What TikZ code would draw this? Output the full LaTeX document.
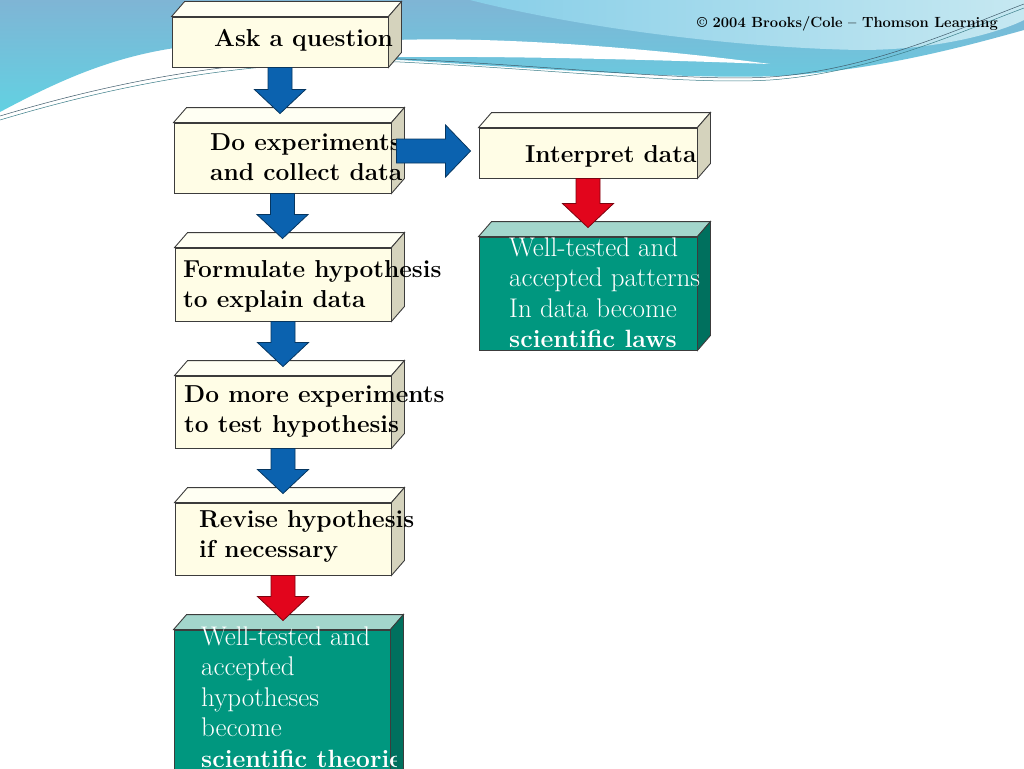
\documentclass[tikz,border=0pt]{standalone}
\usepackage{tikz}
\usetikzlibrary{calc}

\definecolor{cream}{HTML}{FFFDE6}
\definecolor{creamtop}{HTML}{FFFFF3}
\definecolor{creamside}{HTML}{D5D3BD}
\definecolor{tealfront}{HTML}{00977F}
\definecolor{tealtop}{HTML}{A3D6CC}
\definecolor{tealside}{HTML}{00705E}
\definecolor{edgegray}{HTML}{3C3C3C}
\definecolor{arrowblue}{HTML}{0B62AF}
\definecolor{arrowred}{HTML}{E2051C}
\definecolor{skytop}{HTML}{7FB5D5}
\definecolor{skycyan}{HTML}{62D1E2}
\definecolor{skylight}{HTML}{C6E8F1}
\definecolor{skymid}{HTML}{5DBDE2}

% top and side face of a slab, #1 = front node
\newcommand{\slabfaces}[3]{%
  \draw[edgegray, line width=0.9pt, fill=#2] (#1.north west) -- ++(13,-15) -- ($(#1.north east)+(13,-15)$) -- (#1.north east) -- cycle;
  \draw[edgegray, line width=0.9pt, fill=#3] (#1.north east) -- ++(13,-15) -- ($(#1.south east)+(13,-15)$) -- (#1.south east) -- cycle;}

% block arrows, #2 = start, #3 = tip
\newcommand{\blockdown}[3]{%
  \path (#2 |- #3) coordinate (aux tip);
  \draw[#1] ($(#2)+(-12,0)$) -- ($(#2)+(12,0)$) -- ($(aux tip)+(12,-24)$) -- ($(aux tip)+(25.5,-24)$)
    -- (aux tip) -- ($(aux tip)+(-25.5,-24)$) -- ($(aux tip)+(-12,-24)$) -- cycle;}
\newcommand{\blockright}[3]{%
  \path (#2 |- #3) coordinate (aux start);
  \draw[#1] ($(aux start)+(0,-12)$) -- ($(#3)+(-25,-12)$) -- ($(#3)+(-25,-26)$) -- (#3)
    -- ($(#3)+(-25,26)$) -- ($(#3)+(-25,12)$) -- ($(aux start)+(0,12)$) -- cycle;}

\newcommand{\textlines}[1]{\begin{tabular}[t]{@{}l@{}}#1\end{tabular}}
\newcommand{\boldline}[1]{{\bfseries\fontsize{25}{30.5}\selectfont #1}}

\begin{document}
\begin{tikzpicture}[
    x=1pt, y=-1pt,
    card/.style={rectangle, draw=edgegray, line width=0.9pt, fill=cream, inner sep=0pt},
    law/.style={rectangle, draw=edgegray, line width=0.9pt, fill=tealfront, inner sep=0pt},
    txt/.style={anchor=base west, inner sep=0pt, font=\bfseries\fontsize{24.5}{30.5}\selectfont},
    wtxt/.style={anchor=base west, inner sep=0pt, text=white, font=\fontsize{27}{30.5}\selectfont},
    blue_arrow/.style={draw=arrowblue!55!black, fill=arrowblue, line width=0.8pt},
    red_arrow/.style={draw=arrowred!55!black, fill=arrowred, line width=0.8pt}
  ]

    \useasboundingbox (0,0) rectangle (1024,768);
    \fill[white] (0,0) rectangle (1024,768);

    % Header waves
    \shade[top color=skytop, bottom color=skycyan] (0,0) -- (1024,0) -- (1024,30)
      .. controls (970,45) and (880,70) .. (780,76) .. controls (680,80) and (500,66) .. (400,60)
      -- (200,45) .. controls (120,52) and (60,80) .. (0,112) -- cycle;
    \shade[left color=skymid!60!skylight, right color=skylight] (470,0) .. controls (580,28) and (740,48) .. (860,50)
      .. controls (940,50) and (1000,32) .. (1024,20) -- (1024,0) -- cycle;
    \fill[white] (395,40) .. controls (520,36) and (680,52) .. (770,64) .. controls (660,60) and (520,56) .. (395,57) -- cycle;
    \draw[skytop!50!black, line width=0.5pt] (0,116) .. controls (120,80) and (250,55) .. (400,59)
      .. controls (560,66) and (690,82) .. (770,77) .. controls (870,70) and (960,28) .. (1024,4);
    \draw[skycyan!60!black, line width=0.5pt] (0,120) .. controls (120,84) and (250,59) .. (400,62)
      .. controls (560,70) and (690,85) .. (770,80) .. controls (870,73) and (960,32) .. (1024,8);

    \node[anchor=base east, inner sep=0pt, font=\bfseries\fontsize{14.7}{17}\selectfont] (credit) at (998,28)
      {\textcopyright{} 2004 Brooks/Cole -- Thomson Learning};

    % Left column - method steps
    \node[card, minimum width=216pt, minimum height=50pt] (ask) at (280,42) {};
    \node[card, minimum width=217pt, minimum height=70pt] (exper) at (282.5,158) {};
    \node[card, minimum width=216pt, minimum height=73pt] (formulate) at (283,284.5) {};
    \node[card, minimum width=216pt, minimum height=72pt] (more) at (283,412) {};
    \node[card, minimum width=216pt, minimum height=72pt] (revise) at (283,539) {};
    \node[law, minimum width=216pt, minimum height=170pt] (theories) at (282,715) {};

    % Right column
    \node[card, minimum width=218pt, minimum height=50pt] (interp) at (588,153) {};
    \node[law, minimum width=218pt, minimum height=113pt] (laws) at (588,293.5) {};

    \slabfaces{ask}{creamtop}{creamside}
    \slabfaces{exper}{creamtop}{creamside}
    \slabfaces{formulate}{creamtop}{creamside}
    \slabfaces{more}{creamtop}{creamside}
    \slabfaces{revise}{creamtop}{creamside}
    \slabfaces{theories}{tealtop}{tealside}
    \slabfaces{interp}{creamtop}{creamside}
    \slabfaces{laws}{tealtop}{tealside}

    % Texts
    \node[txt] (askt) at (214,47) {Ask a question};
    \node[txt] (expert) at (210,150) {\textlines{Do experiments\\and collect data}};
    \node[txt] (formulatet) at (183,277) {\textlines{Formulate hypothesis\\to explain data}};
    \node[txt] (moret) at (184,402) {\textlines{Do more experiments\\to test hypothesis}};
    \node[txt] (reviset) at (199,527) {\textlines{Revise hypothesis\\if necessary}};
    \node[txt] (interpt) at (525,162) {Interpret data};
    \node[wtxt] (lawst) at (509,256) {\textlines{Well-tested and\\accepted patterns\\In data become\\\boldline{scientific laws}}};
    \begin{scope}
      \clip (170,600) rectangle (396,768);
      \node[wtxt] (theoriest) at (201,645) {\textlines{Well-tested and\\accepted\\hypotheses\\become\\\boldline{scientific theories}}};
    \end{scope}

    % Arrows
    \coordinate (t1) at ($(exper.north)+(0,-9)$);
    \coordinate (t2) at ($(formulate.north)+(0,-9)$);
    \coordinate (t3) at ($(more.north)+(0,-9)$);
    \coordinate (t4) at ($(revise.north)+(0,-9)$);
    \coordinate (t5) at ($(theories.north)+(0,-9)$);
    \coordinate (t6) at ($(laws.north)+(0,-9)$);
    \coordinate (rtip) at ($(interp.west)+(-8,-2)$);
    \coordinate (rbase) at ($(exper.east)+(5,0)$);

    \blockdown{blue_arrow}{ask.south}{t1}
    \blockdown{blue_arrow}{exper.south}{t2}
    \blockdown{blue_arrow}{formulate.south}{t3}
    \blockdown{blue_arrow}{more.south}{t4}
    \blockdown{red_arrow}{revise.south}{t5}
    \blockdown{red_arrow}{interp.south}{t6}
    \blockright{blue_arrow}{rbase}{rtip}

\end{tikzpicture}
\end{document}
